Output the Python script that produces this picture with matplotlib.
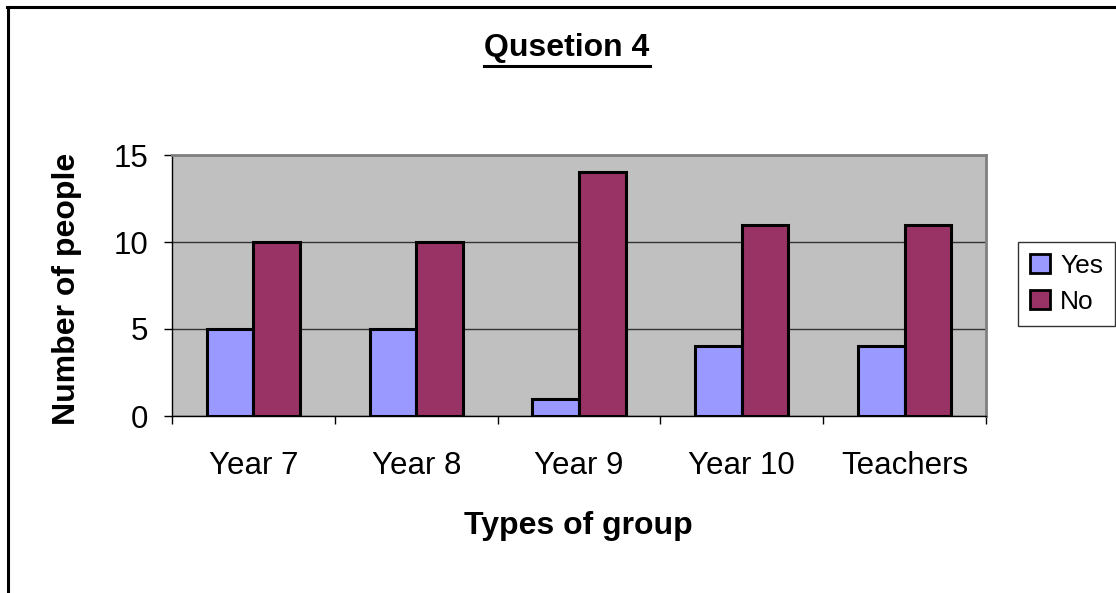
import matplotlib
matplotlib.use("Agg")
import matplotlib.pyplot as plt
from matplotlib.lines import Line2D
import numpy as np

categories = ["Year 7", "Year 8", "Year 9", "Year 10", "Teachers"]
yes_values = [5, 5, 1, 4, 4]
no_values = [10, 10, 14, 11, 11]
series_names = ["Yes", "No"]
title = "Qusetion 4"
xlabel = "Types of group"
ylabel = "Number of people"

plt.rcParams['font.family'] = ['Liberation Sans', 'DejaVu Sans']

W, H = 1116, 593
fig = plt.figure(figsize=(W / 100, H / 100), dpi=100)
fig.patch.set_facecolor('white')

def fx(px):
    return px / W

def fy(py):
    return 1 - py / H

ax = fig.add_axes([fx(172), fy(416), fx(986) - fx(172), fy(155) - fy(416)])
ax.set_facecolor('#C0C0C0')

x = np.arange(len(categories))
bw = 1 / 3.5
ax.bar(x - bw / 2, yes_values, width=bw, color='#9999FF', edgecolor='black',
       linewidth=2.2, label=series_names[0], zorder=3)
ax.bar(x + bw / 2, no_values, width=bw, color='#993366', edgecolor='black',
       linewidth=2.2, label=series_names[1], zorder=3)

ax.set_xlim(-0.5, len(categories) - 0.5)
ax.set_ylim(0, 15)
ax.set_yticks([0, 5, 10, 15])
ax.yaxis.grid(True, color='#333333', linewidth=1.0, zorder=1)
ax.set_axisbelow(True)

ax.set_xticks(x)
ax.set_xticklabels(categories, fontsize=22.5)
ax.set_xticks(np.arange(-0.5, len(categories)), minor=True)
ax.tick_params(axis='x', which='major', length=0, pad=25)
ax.tick_params(axis='x', which='minor', length=6, width=1, color='black', direction='out')
ax.tick_params(axis='y', length=6, width=1, color='black', direction='out', labelsize=22.5, pad=11)

for s in ['left', 'bottom']:
    ax.spines[s].set_color('black')
    ax.spines[s].set_linewidth(1.0)
for s in ['top', 'right']:
    ax.spines[s].set_color('#808080')
    ax.spines[s].set_linewidth(2.0)

fig.text(fx(578), fy(526), xlabel, fontsize=23, fontweight='bold', ha='center', va='center')
fig.text(fx(67), fy(289), ylabel, fontsize=23, fontweight='bold', ha='center', va='center',
         rotation=90)

t = fig.text(fx(567), fy(48), title, fontsize=23, fontweight='bold', ha='center', va='center')

leg = fig.legend(loc='upper left', bbox_to_anchor=(fx(1018), fy(242)), fontsize=19,
                 frameon=True, fancybox=False, edgecolor='black', handlelength=0.75,
                 handleheight=0.75, handletextpad=0.4, borderpad=0.45, labelspacing=0.45,
                 borderaxespad=0)
leg.get_frame().set_linewidth(1.0)
for h in leg.legend_handles:
    h.set_linewidth(2.0)

# figure border (left and top)
fig.add_artist(Line2D([fx(8), fx(8)], [0, fy(7)], color='black', linewidth=2.2,
                      transform=fig.transFigure))
fig.add_artist(Line2D([fx(7), 1], [fy(7), fy(7)], color='black', linewidth=2.2,
                      transform=fig.transFigure))

# underline title
fig.canvas.draw()
bb = t.get_window_extent()
fig.add_artist(Line2D([bb.x0 / W, bb.x1 / W], [fy(66), fy(66)], color='black',
                      linewidth=2.2, transform=fig.transFigure))

fig.savefig('out.png', dpi=100)
